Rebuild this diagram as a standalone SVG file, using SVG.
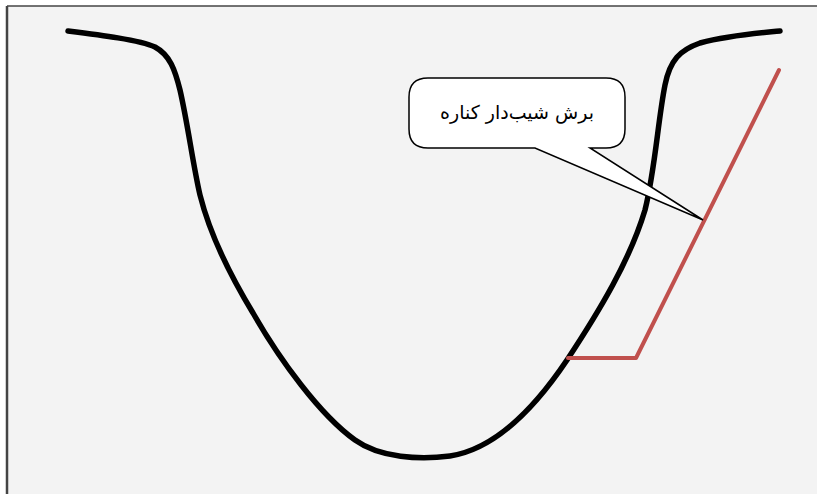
<svg xmlns="http://www.w3.org/2000/svg" width="817" height="494" viewBox="0 0 817 494">
<style>
.bg{fill:#f3f3f3}
.frame{stroke:#444;fill:none}
.valley{fill:none;stroke:#000;stroke-width:5.5;stroke-linecap:round;stroke-linejoin:round}
.cut{fill:none;stroke:#c0504d;stroke-width:4;stroke-linecap:round;stroke-linejoin:round}
.callout{fill:#fff;stroke:#000;stroke-width:1.5}
.lbl{font-family:"DejaVu Sans",sans-serif;font-size:19px;fill:#000}
</style>
<rect width="817" height="494" fill="#fff"/>
<rect class="bg" x="7" y="6" width="810" height="488"/>
<g id="frame">
<line class="frame" x1="7" y1="6" x2="817" y2="6" stroke-width="1.5"/>
<line class="frame" x1="7" y1="6" x2="7" y2="494" stroke-width="2.5"/>
</g>
<g id="connectors">
<path id="valley" class="valley" d="M68,31 C100,35 140,40 155,47 C170,55 175,70 180,90 C188,125 193,165 200,195 C210,235 230,275 253,313 C280,360 320,415 355,440 C380,458 420,460 450,456 C490,450 530,415 567,360 C600,310 630,260 645,210 C655,170 658,120 665,85 C670,60 680,50 700,43 C730,35 760,33 780,31"/>
<path id="slope-cut" class="cut" d="M779,70 L636,358 L568,358"/>
</g>
<g id="callout">
<path class="callout" d="M428,78 L606,78 Q625,78 625,97 L625,129 Q625,148 606,148 L590,148 L703,220 L535,148 L428,148 Q409,148 409,129 L409,97 Q409,78 428,78 Z"/>
<text class="lbl" x="517" y="119" text-anchor="middle" direction="rtl">برش شیب&#x200C;دار کناره</text>
</g>
</svg>
